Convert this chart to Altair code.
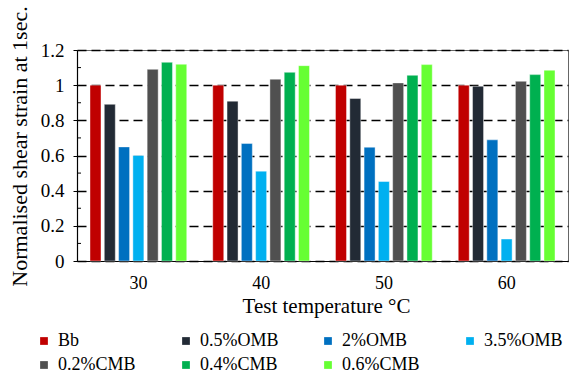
import altair as alt
import pandas as pd

# Test temperatures (°C) and binder series
temperatures = ["30", "40", "50", "60"]
series = ["Bb", "0.5%OMB", "2%OMB", "3.5%OMB", "0.2%CMB", "0.4%CMB", "0.6%CMB"]
colors = ["#C00000", "#222A35", "#0070C0", "#00B0F0", "#505050", "#00B050", "#66FF33"]

# Normalised shear strain at 1 sec, one list per series (30, 40, 50, 60 °C)
bb = [1.0, 1.0, 1.0, 1.0]
omb_05 = [0.891, 0.909, 0.924, 0.994]
omb_2 = [0.649, 0.668, 0.647, 0.689]
omb_35 = [0.600, 0.511, 0.452, 0.125]
cmb_02 = [1.090, 1.034, 1.013, 1.022]
cmb_04 = [1.130, 1.073, 1.056, 1.060]
cmb_06 = [1.119, 1.111, 1.117, 1.085]

# Major and minor y-axis tick positions
major_ticks = [0, 0.2, 0.4, 0.6, 0.8, 1.0, 1.2]
minor_ticks = [0.1, 0.3, 0.5, 0.7, 0.9, 1.1]

values = [bb, omb_05, omb_2, omb_35, cmb_02, cmb_04, cmb_06]
rows = []
for name, vals in zip(series, values):
    for t, v in zip(temperatures, vals):
        rows.append({"temp": t, "series": name, "value": v})
df = pd.DataFrame(rows)

FONT = "Liberation Serif, Times New Roman, serif"
y_scale = alt.Scale(domain=[0, 1.2], nice=False, zero=True)

# One y-axis definition shared by both layers so they merge cleanly
y_axis = alt.Axis(
    title="Normalised shear strain at 1sec.",
    values=major_ticks,
    labelOverlap=False,
    labelExpr="datum.value == 0 ? '0' : (datum.value == 1 ? '1' : format(datum.value, '.1f'))",
    tickSize=4,
    tickColor="black",
    labelPadding=9,
    labelFontSize=19,
    titleFontSize=22,
    titleFontWeight="normal",
    titleX=-58,
    titleY=96,
    titleBaseline="middle",
    domainColor="black",
    domainWidth=1.2,
    grid=True,
    gridColor="black",
    gridDash=[9, 5],
    gridWidth=1.3,
)

bars = alt.Chart(df).mark_bar(stroke="white", strokeWidth=0.6, strokeOpacity=0.7).encode(
    x=alt.X(
        "temp:N",
        sort=temperatures,
        scale=alt.Scale(paddingInner=0.185, paddingOuter=0.0925),
        axis=alt.Axis(
            title="Test temperature °C",
            labelAngle=0,
            ticks=False,
            labelPadding=13,
            labelFontSize=18,
            titleFontSize=21,
            titleFontWeight="normal",
            titleX=249,
            titleY=45,
            titleBaseline="middle",
            domainColor="black",
            domainWidth=1.2,
        ),
    ),
    xOffset=alt.XOffset(
        "series:N",
        sort=series,
        scale=alt.Scale(paddingInner=0.23, paddingOuter=0.115),
    ),
    y=alt.Y("value:Q", scale=y_scale, axis=y_axis),
    color=alt.Color(
        "series:N",
        sort=series,
        scale=alt.Scale(domain=series, range=colors),
        legend=alt.Legend(
            title=None,
            orient="none",
            legendX=-42,
            legendY=282,
            direction="horizontal",
            columns=4,
            gridAlign="all",
            columnPadding=40,
            rowPadding=6,
            symbolType="square",
            symbolSize=60,
            symbolStrokeWidth=0,
            labelFontSize=18,
            labelOffset=5,
            padding=0,
        ),
    ),
)

minor = alt.Chart(pd.DataFrame({"value": minor_ticks})).mark_rule(color="black", strokeWidth=1).encode(
    y=alt.Y("value:Q", scale=y_scale, axis=y_axis),
    x=alt.value(0),
    x2=alt.value(4),
)

chart = alt.layer(bars, minor).properties(
    width=491,
    height=211,
    autosize=alt.AutoSizeParams(type="none"),
    padding={"left": 77, "top": 50, "right": 1, "bottom": 113},
).configure(
    font=FONT,
).configure_view(
    stroke="#666666",
    strokeWidth=1,
).configure_axis(
    labelColor="black",
    titleColor="black",
    labelFont=FONT,
    titleFont=FONT,
).configure_legend(
    labelFont=FONT,
    labelColor="black",
)

chart.save("out.html", embed_options={"renderer": "svg", "actions": False})
